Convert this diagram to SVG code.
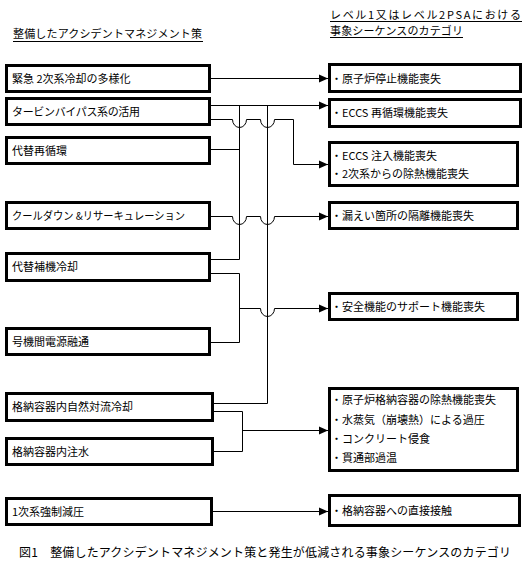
<svg xmlns="http://www.w3.org/2000/svg" width="532" height="566" viewBox="0 0 532 566">
<style>
  text { font-family: "Noto Sans CJK JP", "Noto Sans", sans-serif; font-size: 11px; fill: #000; }
  .box { fill: #fff; stroke: #000; stroke-width: 3; }
  .conn { fill: none; stroke: #000; stroke-width: 1; }
  .ul { stroke: #000; stroke-width: 1; }
  .cap { font-size: 12px; }
</style>
<defs>
  <marker id="arr" markerUnits="userSpaceOnUse" markerWidth="10" markerHeight="9" refX="9" refY="4.5" orient="auto">
    <path d="M0,0.5 L9,4.5 L0,8.5 z" fill="#000"/>
  </marker>
</defs>
<rect width="532" height="566" fill="#fff"/>

<g id="headings">
  <text x="13" y="38" textLength="189" lengthAdjust="spacing">整備したアクシデントマネジメント策</text>
  <line class="ul" x1="13" y1="41.5" x2="203" y2="41.5"/>
  <text x="330" y="19" textLength="191" lengthAdjust="spacing">レベル1又はレベル2PSAにおける</text>
  <line class="ul" x1="330" y1="21.5" x2="522" y2="21.5"/>
  <text x="330" y="35" textLength="133" lengthAdjust="spacing">事象シーケンスのカテゴリ</text>
  <line class="ul" x1="330" y1="37.5" x2="463" y2="37.5"/>
</g>

<g id="connectors">
  <path class="conn" d="M211,78.5 H328" marker-end="url(#arr)"/>
  <path class="conn" d="M211,105.5 H328" marker-end="url(#arr)"/>
  <path class="conn" d="M211,119.5 H232.5 A7,8 0 0 0 246.5,119.5 H260.5 A7,8 0 0 0 274.5,119.5 H293.5 V164.5 H328" marker-end="url(#arr)"/>
  <path class="conn" d="M211,149.5 H239.5"/>
  <path class="conn" d="M239.5,105.5 V259.5 H211"/>
  <path class="conn" d="M267.5,105.5 V403.5 H214"/>
  <path class="conn" d="M211,216.5 H232.5 A7,8 0 0 0 246.5,216.5 H260.5 A7,8 0 0 0 274.5,216.5 H328" marker-end="url(#arr)"/>
  <path class="conn" d="M211,273.5 H239.5 V342.5 H211"/>
  <path class="conn" d="M239.5,308.5 H260.5 A7,8 0 0 0 274.5,308.5 H328" marker-end="url(#arr)"/>
  <path class="conn" d="M214,411.5 H242.5 V451.5 H214"/>
  <path class="conn" d="M242.5,430.5 H328" marker-end="url(#arr)"/>
  <path class="conn" d="M213,511.5 H328" marker-end="url(#arr)"/>
</g>

<g id="am1"><rect class="box" x="6.5" y="65.5" width="203" height="26"/><text x="12" y="83">緊急 2次系冷却の多様化</text></g>
<g id="am2"><rect class="box" x="6.5" y="98.5" width="203" height="26"/><text x="12" y="116" textLength="128" lengthAdjust="spacing">タービンバイパス系の活用</text></g>
<g id="am3"><rect class="box" x="6.5" y="137.5" width="203" height="26"/><text x="12" y="155">代替再循環</text></g>
<g id="am4"><rect class="box" x="6.5" y="202.5" width="203" height="26"/><text x="12" y="220" textLength="173" lengthAdjust="spacingAndGlyphs">クールダウン &amp;リサーキュレーション</text></g>
<g id="am5"><rect class="box" x="6.5" y="253.5" width="203" height="27"/><text x="12" y="271">代替補機冷却</text></g>
<g id="am6"><rect class="box" x="6.5" y="328.5" width="203" height="26"/><text x="12" y="346">号機間電源融通</text></g>
<g id="am7"><rect class="box" x="6.5" y="393.5" width="206" height="27"/><text x="12" y="411">格納容器内自然対流冷却</text></g>
<g id="am8"><rect class="box" x="6.5" y="438.5" width="206" height="26"/><text x="12" y="456">格納容器内注水</text></g>
<g id="am9"><rect class="box" x="6.5" y="498.5" width="205" height="26"/><text x="12" y="516">1次系強制減圧</text></g>

<g id="sq1"><rect class="box" x="329.5" y="64.5" width="191" height="27"/><text x="331" y="83">・原子炉停止機能喪失</text></g>
<g id="sq2"><rect class="box" x="329.5" y="99.5" width="191" height="27"/><text x="331" y="117">・ECCS 再循環機能喪失</text></g>
<g id="sq3"><rect class="box" x="329.5" y="142.5" width="188" height="43"/><text x="331" y="160">・ECCS 注入機能喪失</text><text x="331" y="178">・2次系からの除熱機能喪失</text></g>
<g id="sq4"><rect class="box" x="329.5" y="202.5" width="188" height="26"/><text x="331" y="220">・漏えい箇所の隔離機能喪失</text></g>
<g id="sq5"><rect class="box" x="329.5" y="293.5" width="188" height="26"/><text x="331" y="311">・安全機能のサポート機能喪失</text></g>
<g id="sq6"><rect class="box" x="329.5" y="388.5" width="188" height="82"/>
  <text x="331" y="404">・原子炉格納容器の除熱機能喪失</text>
  <text x="331" y="424">・水蒸気（崩壊熱）による過圧</text>
  <text x="331" y="443">・コンクリート侵食</text>
  <text x="331" y="462">・貫通部過温</text></g>
<g id="sq7"><rect class="box" x="329.5" y="495.5" width="190" height="30"/><text x="331" y="515">・格納容器への直接接触</text></g>

<g id="caption">
  <text class="cap" x="19" y="557" textLength="492" lengthAdjust="spacing">図1　整備したアクシデントマネジメント策と発生が低減される事象シーケンスのカテゴリ</text>
</g>
</svg>
